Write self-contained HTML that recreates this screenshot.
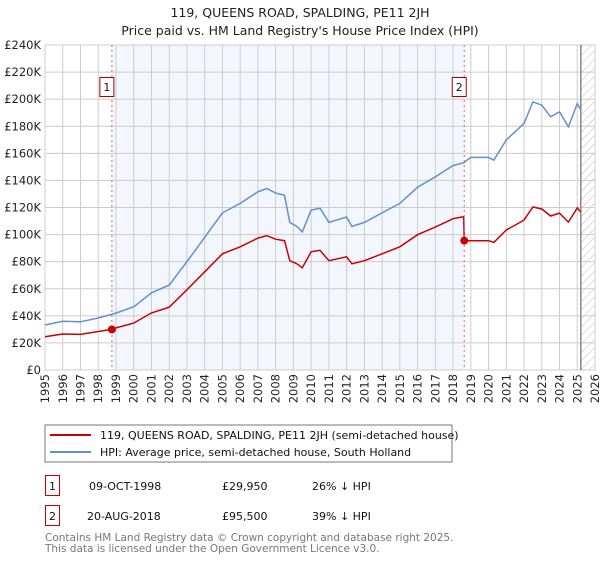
<!DOCTYPE html>
<html><head><meta charset="utf-8"><style>
body{margin:0;background:#fff;font-family:"Liberation Sans","DejaVu Sans",sans-serif;}
svg text{font-family:"DejaVu Sans","Liberation Sans",sans-serif;}
</style></head><body>
<svg id="c" width="600" height="560" viewBox="0 0 600 560" xmlns="http://www.w3.org/2000/svg">
<defs><pattern id="hatch" width="6" height="6" patternUnits="userSpaceOnUse" patternTransform="rotate(45)"><line x1="0" y1="0" x2="0" y2="6" stroke="#bbb" stroke-width="1"/></pattern></defs>
<text x="300" y="17" text-anchor="middle" font-size="12.5" fill="#222">119, QUEENS ROAD, SPALDING, PE11 2JH</text>
<text x="300" y="35" text-anchor="middle" font-size="12.5" fill="#222">Price paid vs. HM Land Registry's House Price Index (HPI)</text>
<g id="plot"></g>
<rect x="45" y="425" width="407" height="37" fill="#fff" stroke="#777"/>
<line x1="50" y1="435" x2="91" y2="435" stroke="#cc0000" stroke-width="2"/>
<text x="100" y="439" font-size="11" fill="#111">119, QUEENS ROAD, SPALDING, PE11 2JH (semi-detached house)</text>
<line x1="50" y1="452" x2="91" y2="452" stroke="#6090d0" stroke-width="2"/>
<text x="100" y="456" font-size="11" fill="#111">HPI: Average price, semi-detached house, South Holland</text>
<g>
<rect x="45.5" y="475.5" width="14" height="20" fill="#fff" stroke="#cc0000"/>
<text x="52.5" y="490" text-anchor="middle" font-size="11" fill="#111">1</text>
<text x="89" y="490" font-size="11" fill="#111">09-OCT-1998</text>
<text x="222" y="490" font-size="11" fill="#111">£29,950</text>
<text x="312" y="490" font-size="11" fill="#111">26% ↓ HPI</text></g>
<g>
<rect x="45.5" y="505.5" width="14" height="20" fill="#fff" stroke="#cc0000"/>
<text x="52.5" y="520" text-anchor="middle" font-size="11" fill="#111">2</text>
<text x="87" y="520" font-size="11" fill="#111">20-AUG-2018</text>
<text x="222" y="520" font-size="11" fill="#111">£95,500</text>
<text x="312" y="520" font-size="11" fill="#111">39% ↓ HPI</text></g>
<text x="45" y="541" font-size="10.5" fill="#777">Contains HM Land Registry data © Crown copyright and database right 2025.</text>
<text x="45" y="552" font-size="10.5" fill="#777">This data is licensed under the Open Government Licence v3.0.</text>
</svg>
<script>
const hpiDates=[1995,1996,1997,1998,1999,2000,2001,2002,2003,2004,2005,2006,2007,2007.5,2008,2008.5,2008.8,2009.2,2009.5,2010,2010.5,2011,2012,2012.3,2013,2014,2015,2016,2017,2018,2018.6,2019,2020,2020.3,2021,2021.5,2022,2022.5,2023,2023.5,2024,2024.5,2025,2025.2];
const hpiValues=[33.2,36,35.6,38.4,42,46.7,57,62.7,80,98,116,123,131.6,134,130.6,129,109,106,102,118,119.5,109,113,106,109,116,123,135,142.6,151,153,157,157,155,170,176,182,198,195.6,187,190.6,179.6,196.8,192];
const priceDates=[1995,1996,1997,1998,1998.77,1999,2000,2001,2002,2003,2004,2005,2006,2007,2007.5,2008,2008.5,2008.8,2009.2,2009.5,2010,2010.5,2011,2012,2012.3,2013,2014,2015,2016,2017,2018,2018.6,2018.63,2019,2020,2020.3,2021,2021.5,2022,2022.5,2023,2023.5,2024,2024.5,2025,2025.2];
const priceValues=[24.6,26.6,26.3,28.4,29.95,31.1,34.6,42.2,46.4,59.2,72.5,85.8,91,97.4,99.2,96.6,95.5,80.7,78.4,75.5,87.3,88.4,80.7,83.6,78.4,80.7,85.8,91,99.9,105.5,111.7,113.2,95.5,95.5,95.5,94.2,103.4,107,110.7,120.4,118.9,113.7,115.9,109.2,119.7,116.7];
const saleDates=[1998.77,2018.63];
const salePrices=[29.95,95.5];
const saleLabels=["1","2"];
const yTicks=[0,20,40,60,80,100,120,140,160,180,200,220,240];
const yTickLabels=["£0","£20K","£40K","£60K","£80K","£100K","£120K","£140K","£160K","£180K","£200K","£220K","£240K"];
const xTicks=[1995,1996,1997,1998,1999,2000,2001,2002,2003,2004,2005,2006,2007,2008,2009,2010,2011,2012,2013,2014,2015,2016,2017,2018,2019,2020,2021,2022,2023,2024,2025,2026];
const L=45,R=595,T=45,B=370,X0=1995,X1=2026,YMAX=240;
const xs=v=>L+(v-X0)/(X1-X0)*(R-L);
const ys=v=>B-v/YMAX*(B-T);
const g=document.getElementById('plot');
const NS='http://www.w3.org/2000/svg';
function mk(t,a){const e=document.createElementNS(NS,t);for(const k in a)e.setAttribute(k,a[k]);g.appendChild(e);return e;}
const bg=mk('rect',{x:L,y:T,width:R-L,height:B-T,fill:'#fff',stroke:'#ccc'});


const sh=mk('rect',{x:xs(saleDates[0]),y:T,width:xs(saleDates[1])-xs(saleDates[0]),height:B-T,fill:'#eef3fc',opacity:0.7});


const ht=mk('rect',{x:xs(2025.2),y:T,width:R-xs(2025.2),height:B-T,fill:'url(#hatch)'});


yTicks.forEach((v,i)=>{
 const l=mk('line',{x1:L,x2:R,y1:ys(v),y2:ys(v),stroke:'#ccc'});
 
 
 const t=mk('text',{x:L-4,y:ys(v)+4,'text-anchor':'end','font-size':11.5,fill:'#222'});
 t.textContent=yTickLabels[i];
 
 
});
xTicks.forEach(v=>{
 const l=mk('line',{x1:xs(v),x2:xs(v),y1:T,y2:B,stroke:'#ccc'});
 
 
 const t=mk('text',{x:xs(v),y:B+4,'text-anchor':'end','font-size':11.5,fill:'#222',transform:`rotate(-90 ${xs(v)} ${B+4})`,dy:'0.35em'});
 t.textContent=v;
 
 
});
const ln=mk('line',{x1:xs(2025.2),x2:xs(2025.2),y1:T,y2:B,stroke:'#888','stroke-width':1.5});


function path(d,v){return d.map((x,i)=>(i?'L':'M')+xs(x).toFixed(1)+','+ys(v[i]).toFixed(1)).join('');}
const hp=mk('path',{d:path(hpiDates,hpiValues),fill:'none',stroke:'#6090d0','stroke-width':1.5});


const pp=mk('path',{d:path(priceDates,priceValues),fill:'none',stroke:'#cc0000','stroke-width':1.5});


saleDates.forEach((d,i)=>{
 const vl=mk('line',{x1:xs(d),x2:xs(d),y1:T,y2:B,stroke:'#e06070','stroke-dasharray':'2,3'});
 
 
 const c=mk('circle',{cx:xs(d),cy:ys(salePrices[i]),r:4,fill:'#cc0000'});
 
 
 const b=mk('rect',{x:xs(d)-12,y:77.5,width:14,height:19,fill:'#fff',stroke:'#aa0000'});
 
 
 const t=mk('text',{x:xs(d)-5,y:91,'text-anchor':'middle','font-size':11,fill:'#111'});
 t.textContent=saleLabels[i];
 
 
});
</script>
</body></html>
